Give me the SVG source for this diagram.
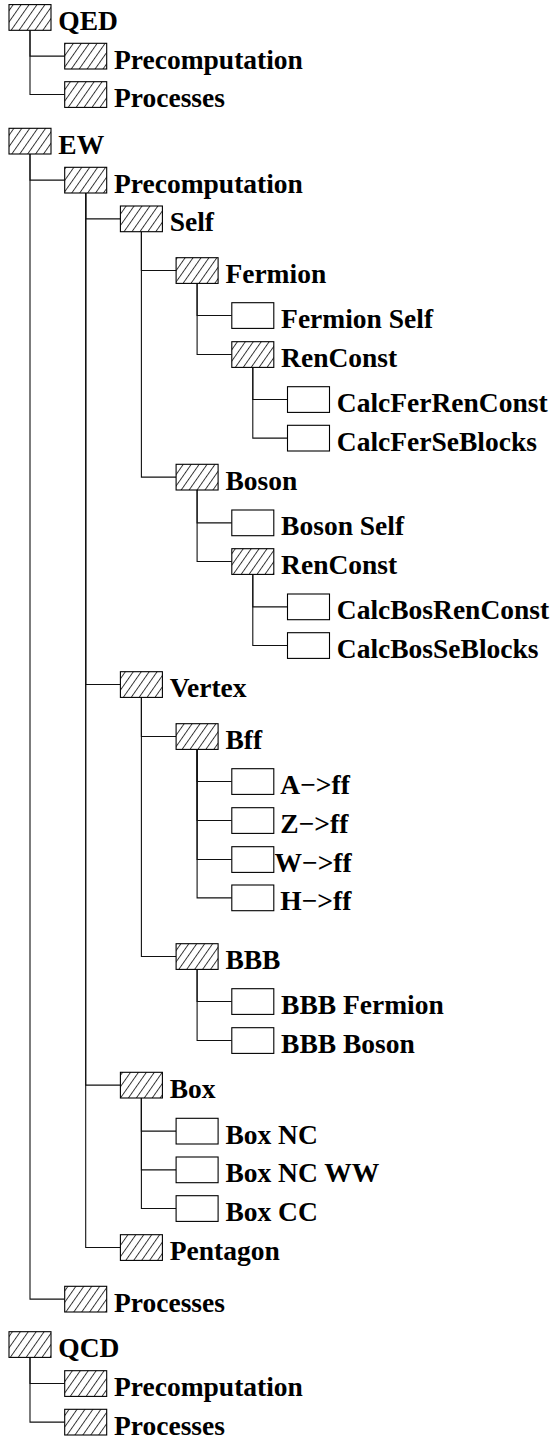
<svg xmlns="http://www.w3.org/2000/svg" width="554" height="1442" viewBox="0 0 554 1442">
<defs>
<pattern id="hatch" patternUnits="userSpaceOnUse" width="6.5" height="10" patternTransform="rotate(35)">
<line x1="0.5" y1="0" x2="0.5" y2="10" stroke="#000" stroke-width="0.8"/>
</pattern>
<style>
.h{fill:url(#hatch);stroke:#000;stroke-width:1.1}
.p{fill:#fff;stroke:#000;stroke-width:1.1}
.bg{fill:#fff;stroke:none}
text{font-family:"Liberation Serif","Times New Roman",serif;font-weight:bold;font-size:27.5px;fill:#000}
.c path{fill:none;stroke:#111;stroke-width:1.1}
</style>
</defs>
<rect width="554" height="1442" fill="#fff"/>
<g class="c" id="connectors">
<path d="M30,30.3 V56.15 H64.7"/>
<path d="M30,30.3 V94.55 H64.7"/>
<path d="M30,154 V180.15 H64.7"/>
<path d="M30,154 V1299.15 H64.7"/>
<path d="M85.7,193 V218.85 H120.4"/>
<path d="M85.7,193 V684.55 H120.4"/>
<path d="M85.7,193 V1085.15 H120.4"/>
<path d="M85.7,193 V1247.55 H120.4"/>
<path d="M141.4,231.7 V270.55 H176.1"/>
<path d="M141.4,231.7 V477.15 H176.1"/>
<path d="M197.1,283.4 V315.55 H231.8"/>
<path d="M197.1,283.4 V354.55 H231.8"/>
<path d="M252.8,367.4 V399.55 H287.5"/>
<path d="M252.8,367.4 V438.15 H287.5"/>
<path d="M197.1,490 V522.85 H231.8"/>
<path d="M197.1,490 V561.55 H231.8"/>
<path d="M252.8,574.4 V606.85 H287.5"/>
<path d="M252.8,574.4 V645.55 H287.5"/>
<path d="M141.4,697.4 V736.55 H176.1"/>
<path d="M141.4,697.4 V956.55 H176.1"/>
<path d="M197.1,749.4 V781.55 H231.8"/>
<path d="M197.1,749.4 V820.55 H231.8"/>
<path d="M197.1,749.4 V859.55 H231.8"/>
<path d="M197.1,749.4 V897.85 H231.8"/>
<path d="M197.1,969.4 V1001.55 H231.8"/>
<path d="M197.1,969.4 V1040.55 H231.8"/>
<path d="M141.4,1098 V1131.15 H176.1"/>
<path d="M141.4,1098 V1169.85 H176.1"/>
<path d="M141.4,1098 V1208.55 H176.1"/>
<path d="M30,1357.4 V1383.55 H64.7"/>
<path d="M30,1357.4 V1422.15 H64.7"/>
</g>
<g id="qed"><rect class="bg" x="9" y="4.6" width="42" height="25.7"/><rect class="h" x="9" y="4.6" width="42" height="25.7"/><text x="58.3" y="30">QED</text></g>
<g id="qed-pre"><rect class="bg" x="64.7" y="43.3" width="42" height="25.7"/><rect class="h" x="64.7" y="43.3" width="42" height="25.7"/><text x="114" y="68.7">Precomputation</text></g>
<g id="qed-proc"><rect class="bg" x="64.7" y="81.7" width="42" height="25.7"/><rect class="h" x="64.7" y="81.7" width="42" height="25.7"/><text x="114" y="107.1">Processes</text></g>
<g id="ew"><rect class="bg" x="9" y="128.3" width="42" height="25.7"/><rect class="h" x="9" y="128.3" width="42" height="25.7"/><text x="58.3" y="153.7">EW</text></g>
<g id="ew-pre"><rect class="bg" x="64.7" y="167.3" width="42" height="25.7"/><rect class="h" x="64.7" y="167.3" width="42" height="25.7"/><text x="114" y="192.7">Precomputation</text></g>
<g id="self"><rect class="bg" x="120.4" y="206" width="42" height="25.7"/><rect class="h" x="120.4" y="206" width="42" height="25.7"/><text x="169.7" y="231.4">Self</text></g>
<g id="fermion"><rect class="bg" x="176.1" y="257.7" width="42" height="25.7"/><rect class="h" x="176.1" y="257.7" width="42" height="25.7"/><text x="225.4" y="283.1">Fermion</text></g>
<g id="fermion-self"><rect class="p" x="231.8" y="302.7" width="42" height="25.7"/><text x="281.1" y="328.1">Fermion Self</text></g>
<g id="fer-renconst"><rect class="bg" x="231.8" y="341.7" width="42" height="25.7"/><rect class="h" x="231.8" y="341.7" width="42" height="25.7"/><text x="281.1" y="367.1">RenConst</text></g>
<g id="calcferrenconst"><rect class="p" x="287.5" y="386.7" width="42" height="25.7"/><text x="336.8" y="412.1">CalcFerRenConst</text></g>
<g id="calcferseblocks"><rect class="p" x="287.5" y="425.3" width="42" height="25.7"/><text x="336.8" y="450.7">CalcFerSeBlocks</text></g>
<g id="boson"><rect class="bg" x="176.1" y="464.3" width="42" height="25.7"/><rect class="h" x="176.1" y="464.3" width="42" height="25.7"/><text x="225.4" y="489.7">Boson</text></g>
<g id="boson-self"><rect class="p" x="231.8" y="510" width="42" height="25.7"/><text x="281.1" y="535.4">Boson Self</text></g>
<g id="bos-renconst"><rect class="bg" x="231.8" y="548.7" width="42" height="25.7"/><rect class="h" x="231.8" y="548.7" width="42" height="25.7"/><text x="281.1" y="574.1">RenConst</text></g>
<g id="calcbosrenconst"><rect class="p" x="287.5" y="594" width="42" height="25.7"/><text x="336.8" y="619.4">CalcBosRenConst</text></g>
<g id="calcbosseblocks"><rect class="p" x="287.5" y="632.7" width="42" height="25.7"/><text x="336.8" y="658.1">CalcBosSeBlocks</text></g>
<g id="vertex"><rect class="bg" x="120.4" y="671.7" width="42" height="25.7"/><rect class="h" x="120.4" y="671.7" width="42" height="25.7"/><text x="169.7" y="697.1">Vertex</text></g>
<g id="bff"><rect class="bg" x="176.1" y="723.7" width="42" height="25.7"/><rect class="h" x="176.1" y="723.7" width="42" height="25.7"/><text x="225.4" y="749.1">Bff</text></g>
<g id="aff"><rect class="p" x="231.8" y="768.7" width="42" height="25.7"/><text x="280.3" y="794.1">A−&gt;ff</text></g>
<g id="zff"><rect class="p" x="231.8" y="807.7" width="42" height="25.7"/><text x="280.3" y="833.1">Z−&gt;ff</text></g>
<g id="wff"><rect class="p" x="231.8" y="846.7" width="42" height="25.7"/><text x="274.5" y="872.1">W−&gt;ff</text></g>
<g id="hff"><rect class="p" x="231.8" y="885" width="42" height="25.7"/><text x="280.3" y="910.4">H−&gt;ff</text></g>
<g id="bbb"><rect class="bg" x="176.1" y="943.7" width="42" height="25.7"/><rect class="h" x="176.1" y="943.7" width="42" height="25.7"/><text x="225.4" y="969.1">BBB</text></g>
<g id="bbb-fermion"><rect class="p" x="231.8" y="988.7" width="42" height="25.7"/><text x="281.1" y="1014.1">BBB Fermion</text></g>
<g id="bbb-boson"><rect class="p" x="231.8" y="1027.7" width="42" height="25.7"/><text x="281.1" y="1053.1">BBB Boson</text></g>
<g id="box"><rect class="bg" x="120.4" y="1072.3" width="42" height="25.7"/><rect class="h" x="120.4" y="1072.3" width="42" height="25.7"/><text x="169.7" y="1097.7">Box</text></g>
<g id="boxnc"><rect class="p" x="176.1" y="1118.3" width="42" height="25.7"/><text x="225.4" y="1143.7">Box NC</text></g>
<g id="boxncww"><rect class="p" x="176.1" y="1157" width="42" height="25.7"/><text x="225.4" y="1182.4">Box NC WW</text></g>
<g id="boxcc"><rect class="p" x="176.1" y="1195.7" width="42" height="25.7"/><text x="225.4" y="1221.1">Box CC</text></g>
<g id="pentagon"><rect class="bg" x="120.4" y="1234.7" width="42" height="25.7"/><rect class="h" x="120.4" y="1234.7" width="42" height="25.7"/><text x="169.7" y="1260.1">Pentagon</text></g>
<g id="ew-proc"><rect class="bg" x="64.7" y="1286.3" width="42" height="25.7"/><rect class="h" x="64.7" y="1286.3" width="42" height="25.7"/><text x="114" y="1311.7">Processes</text></g>
<g id="qcd"><rect class="bg" x="9" y="1331.7" width="42" height="25.7"/><rect class="h" x="9" y="1331.7" width="42" height="25.7"/><text x="58.3" y="1357.1">QCD</text></g>
<g id="qcd-pre"><rect class="bg" x="64.7" y="1370.7" width="42" height="25.7"/><rect class="h" x="64.7" y="1370.7" width="42" height="25.7"/><text x="114" y="1396.1">Precomputation</text></g>
<g id="qcd-proc"><rect class="bg" x="64.7" y="1409.3" width="42" height="25.7"/><rect class="h" x="64.7" y="1409.3" width="42" height="25.7"/><text x="114" y="1434.7">Processes</text></g>
</svg>
